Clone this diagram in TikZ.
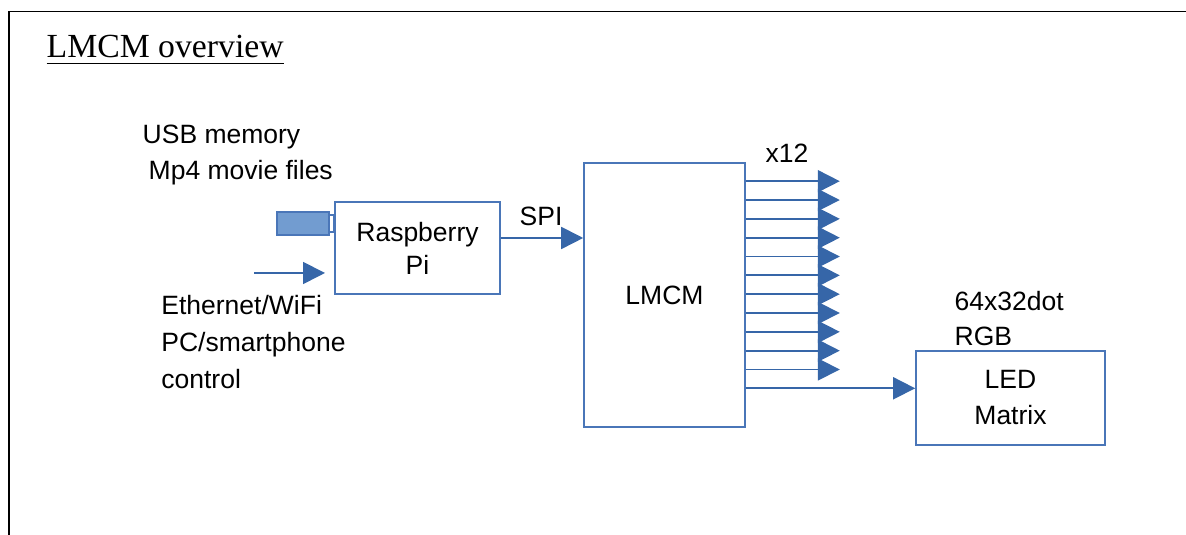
\documentclass[tikz,border=0pt]{standalone}
\usepackage{fontspec}
\setmainfont{Liberation Serif}
\setsansfont{Liberation Sans}
\usepackage{tikz}
\usetikzlibrary{arrows.meta,positioning}
\definecolor{boxblue}{HTML}{4A76B8}
\definecolor{arrowblue}{HTML}{3666A8}
\definecolor{usbblue}{HTML}{729CD0}

\tikzset{
  block/.style={draw=boxblue, line width=0.45pt, inner sep=0pt, align=center,
    font=\sffamily\fontsize{7.54}{9.4}\selectfont},
  lbl/.style={anchor=base west, inner sep=0pt, font=\sffamily\fontsize{7.54}{9.4}\selectfont},
  arr/.style={draw=arrowblue, line width=0.5pt, -{Triangle[length=0.22cm, width=0.22cm]}}
}

\begin{document}
\begin{tikzpicture}
      \useasboundingbox (0,0) rectangle (11.86,5.35);
      % frame
      \draw[line width=0.38pt] (0.09,0) -- (0.09,5.235) -- (11.86,5.235);
      \node[anchor=base west, inner sep=0pt, font=\rmfamily\fontsize{9.6}{11}\selectfont]
        (title) at (0.46, 4.77) {\underline{LMCM overview}};
      % blocks
      \node[block, minimum width=1.65cm, minimum height=0.92cm]
        (rpi) at (4.175, 2.87) {Raspberry\\Pi};
      \node[block, minimum width=1.61cm, minimum height=2.64cm]
        (lmcm) at (6.645, 2.40) {LMCM};
      \node[block, minimum width=1.89cm, minimum height=0.94cm,
        font=\sffamily\fontsize{7.54}{10.24}\selectfont]
        (led) at (10.105, 1.37) {LED\\Matrix};
      % usb stick
      \filldraw[fill=usbblue, draw=boxblue, line width=0.45pt]
        (2.77, 3.00) rectangle (3.29, 3.23);
      \draw[boxblue, fill=white, line width=0.45pt]
        (3.29, 3.03) rectangle (rpi.west |- 0, 3.20);
      \node[lbl] (usb) at (1.42, 3.91) {USB memory};
      \node[lbl] (mp4) at (1.48, 3.55) {Mp4 movie files};
      % network input
      \coordinate (ethin) at (2.54, 2.62);
      \coordinate (ethout) at (3.25, 2.62);
      \draw[arr] (ethin) -- (ethout);
      \foreach[count=\i from 0] \txt in {Ethernet/WiFi, PC/smartphone, control}
        \node[lbl] (eth\i) at (1.607, 2.207 - \i*0.37) {\txt};
      % SPI
      \draw[arr] ([yshift=0.1cm]rpi.east) -- ([yshift=0.1cm]rpi.east -| lmcm.west);
      \node[lbl] (spi) at (5.19, 3.09) {SPI};
      % outputs x12
      \foreach \i in {0,...,10} {
        \pgfmathsetmacro\dy{0.19 + \i * 0.1883}
        \draw[arr] ([yshift=-\dy cm]lmcm.north east) -- ++(0.94, 0);
      }
      \draw[arr] ([yshift=-2.261cm]lmcm.north east) coordinate (lastout)
        -- (lastout -| led.west);
      \node[lbl] (x12) at (7.65, 3.723) {x12};
      \node[lbl] (dots) at (9.54, 2.243) {64x32dot};
      \node[lbl] (rgb) at (9.54, 1.89) {RGB};
    \end{tikzpicture}
\end{document}
